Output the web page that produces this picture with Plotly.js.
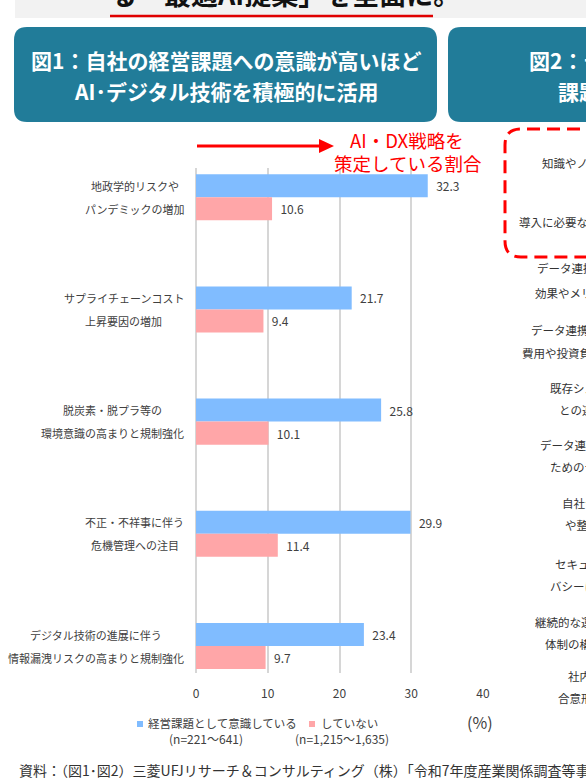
<!DOCTYPE html>
<html><head><meta charset="utf-8">
<script src="https://cdn.plot.ly/plotly-3.0.1.min.js"></script>
<style>html,body{margin:0;padding:0;background:#fff;overflow:hidden}#chart{width:586px;height:783px}</style>
</head><body><div id="chart"></div>
<script>
// ---- data ----
const catLine1 = ['地政学的リスクや','サプライチェーンコスト','脱炭素・脱プラ等の','不正・不祥事に伴う','デジタル技術の進展に伴う'];
const catLine2 = ['パンデミックの増加','上昇要因の増加','環境意識の高まりと規制強化','危機管理への注目','情報漏洩リスクの高まりと規制強化'];
const categories = catLine1.map((a,i)=>a+catLine2[i]);
const awareValues = [32.3, 21.7, 25.8, 29.9, 23.4];
const notAwareValues = [10.6, 9.4, 10.1, 11.4, 9.7];
const xTickVals = [0, 10, 20, 30, 40];
const seriesNames = ['経営課題として意識している', 'していない'];
const seriesN = ['(n=221～641)', '(n=1,215～1,635)'];
const fig2Labels = ['知識やノウハウを持つ人材の不足','導入に必要な費用の確保','データ連携・AI活用の','効果やメリットが不明確','データ連携・AI活用の','費用や投資負担が大きい','既存システム','との連携が困難','データ連携・AI活用の','ためのデータが不足','自社データの収集','や整備が不十分','セキュリティ・プライ','バシーに関する懸念','継続的な運用','体制の構築が困難','社内の','合意形成が困難'];

// ---- layout helpers ----
const W = 586, H = 783;
const L = 196, R = 483, T = 168, B = 673;
const X = px => (px - L) / (R - L);
const Y = py => (B - py) / (B - T);
const FONT = '"Noto Sans CJK JP", "Noto Sans", sans-serif';
const BLUE = '#80bcff', PINK = '#ffa6a8', TEAL = '#217c99', RED = '#ff0000', TXT = '#404040';

function roundRect(x0, y0, x1, y1, r) {
  const p = (x, y) => X(x) + ',' + Y(y);
  return 'M' + p(x0 + r, y0) + ' L' + p(x1 - r, y0) + ' Q' + p(x1, y0) + ' ' + p(x1, y0 + r) +
    ' L' + p(x1, y1 - r) + ' Q' + p(x1, y1) + ' ' + p(x1 - r, y1) +
    ' L' + p(x0 + r, y1) + ' Q' + p(x0, y1) + ' ' + p(x0, y1 - r) +
    ' L' + p(x0, y0 + r) + ' Q' + p(x0, y0) + ' ' + p(x0 + r, y0) + ' Z';
}
const ctx = document.createElement('canvas').getContext('2d');
ctx.font = '11px "Noto Sans CJK JP"';
const tw = s => ctx.measureText(s).width;

const traces = [
  {type:'bar', orientation:'h', y:categories, x:awareValues, name:seriesNames[0],
   marker:{color:BLUE}, text:awareValues.map(v=>v.toFixed(1)), texttemplate:'\u00a0\u00a0%{text}',
   textposition:'outside', cliponaxis:false, textfont:{family:FONT, size:12, color:TXT}, hoverinfo:'skip'},
  {type:'bar', orientation:'h', y:categories, x:notAwareValues, name:seriesNames[1],
   marker:{color:PINK}, text:notAwareValues.map(v=>v.toFixed(1)), texttemplate:'\u00a0\u00a0%{text}',
   textposition:'outside', cliponaxis:false, textfont:{family:FONT, size:12, color:TXT}, hoverinfo:'skip'}
];

const shapes = [];
const ann = [];
// top banner
shapes.push({type:'rect', xref:'paper', yref:'paper', x0:X(15), x1:X(600), y0:Y(-5), y1:Y(18), fillcolor:'#f2f2f2', line:{width:0}, layer:'below'});
ann.push({xref:'paper', yref:'paper', x:X(108), y:Y(15), xanchor:'left', yanchor:'bottom', showarrow:false,
  text:'<b>る「最適AI提案」を全面に。</b>', font:{family:FONT, size:27, color:'#111'}});
shapes.push({type:'line', xref:'paper', yref:'paper', x0:X(110), x1:X(433), y0:Y(16), y1:Y(16), line:{color:'#e00000', width:2.5}});
// title boxes
shapes.push({type:'path', xref:'paper', yref:'paper', path:roundRect(14, 27, 437, 122, 13), fillcolor:TEAL, line:{width:0}});
shapes.push({type:'path', xref:'paper', yref:'paper', path:roundRect(448, 27, 640, 122, 13), fillcolor:TEAL, line:{width:0}});
ann.push({xref:'paper', yref:'paper', x:X(226), y:Y(60), xanchor:'center', yanchor:'middle', showarrow:false,
  text:'<b>図1：自社の経営課題への意識が高いほど</b>', font:{family:FONT, size:21, color:'#fff'}});
ann.push({xref:'paper', yref:'paper', x:X(226), y:Y(91), xanchor:'center', yanchor:'middle', showarrow:false,
  text:'<b>AI･デジタル技術を積極的に活用</b>', font:{family:FONT, size:21, color:'#fff'}});
ann.push({xref:'paper', yref:'paper', x:X(527), y:Y(60), xanchor:'left', yanchor:'middle', showarrow:false,
  text:'<b>図2：データ連携・AI活用の</b>', font:{family:FONT, size:21, color:'#fff'}});
ann.push({xref:'paper', yref:'paper', x:X(556), y:Y(91), xanchor:'left', yanchor:'middle', showarrow:false,
  text:'<b>課題は人材不足</b>', font:{family:FONT, size:21, color:'#fff'}});
// red arrow + text
shapes.push({type:'line', xref:'paper', yref:'paper', x0:X(197), x1:X(322), y0:Y(146), y1:Y(146), line:{color:RED, width:3}});
shapes.push({type:'path', xref:'paper', yref:'paper', path:'M'+X(319)+','+Y(139)+' L'+X(334)+','+Y(146)+' L'+X(319)+','+Y(153)+' Z', fillcolor:RED, line:{width:0}});
ann.push({xref:'paper', yref:'paper', x:X(407), y:Y(140), xanchor:'center', yanchor:'middle', showarrow:false,
  text:'AI・DX戦略を', font:{family:FONT, size:18.5, color:RED}});
ann.push({xref:'paper', yref:'paper', x:X(407.5), y:Y(163), xanchor:'center', yanchor:'middle', showarrow:false,
  text:'策定している割合', font:{family:FONT, size:18.5, color:RED}});
// dashed box of figure 2
shapes.push({type:'path', xref:'paper', yref:'paper',
  path:'M'+X(640)+','+Y(129)+' L'+X(521)+','+Y(129)+' Q'+X(505)+','+Y(129)+' '+X(505)+','+Y(145)+
       ' L'+X(505)+','+Y(241)+' Q'+X(505)+','+Y(257)+' '+X(521)+','+Y(257)+' L'+X(640)+','+Y(257),
  line:{color:RED, width:3, dash:'13px,7px'}});
// figure 2 partial labels
const f2x = [540,517,535,533,529,520,548,557,538,548,560,563,553,548,533,543,566,556];
const f2y = [163,222,268,293,330,353,388,410,445,467,503,525,564,586,622,644,676,698];
fig2Labels.forEach((t,i)=>ann.push({xref:'paper', yref:'paper', x:X(f2x[i]), y:Y(f2y[i]), xanchor:'left', yanchor:'middle',
  showarrow:false, text:t, font:{family:FONT, size:11.5, color:'#333'}}));
// category labels (two lines, centered block, right edge at 184px)
categories.forEach((c,i)=>{
  const w = Math.max(tw(catLine1[i]), tw(catLine2[i]));
  const cx = 184 - w/2;
  ann.push({xref:'paper', yref:'y', x:X(cx), y:i-0.1025, xanchor:'center', yanchor:'middle', showarrow:false,
    text:catLine1[i], font:{family:FONT, size:11, color:TXT}});
  ann.push({xref:'paper', yref:'y', x:X(cx), y:i+0.1025, xanchor:'center', yanchor:'middle', showarrow:false,
    text:catLine2[i], font:{family:FONT, size:11, color:TXT}});
});
// legend
shapes.push({type:'rect', xref:'paper', yref:'paper', x0:X(137), x1:X(143), y0:Y(721), y1:Y(727), fillcolor:BLUE, line:{width:0}});
shapes.push({type:'rect', xref:'paper', yref:'paper', x0:X(309), x1:X(315), y0:Y(721), y1:Y(727), fillcolor:PINK, line:{width:0}});
ann.push({xref:'paper', yref:'paper', x:X(146), y:Y(723), xanchor:'left', yanchor:'middle', showarrow:false, text:seriesNames[0], font:{family:FONT, size:11.5, color:TXT}});
ann.push({xref:'paper', yref:'paper', x:X(206), y:Y(738), xanchor:'center', yanchor:'middle', showarrow:false, text:seriesN[0], font:{family:FONT, size:12, color:TXT}});
ann.push({xref:'paper', yref:'paper', x:X(319), y:Y(723), xanchor:'left', yanchor:'middle', showarrow:false, text:seriesNames[1], font:{family:FONT, size:11.5, color:TXT}});
ann.push({xref:'paper', yref:'paper', x:X(342), y:Y(738), xanchor:'center', yanchor:'middle', showarrow:false, text:seriesN[1], font:{family:FONT, size:12, color:TXT}});
ann.push({xref:'paper', yref:'paper', x:X(480), y:Y(722), xanchor:'center', yanchor:'middle', showarrow:false, text:'(%)', font:{family:FONT, size:16, color:TXT}});
// source
ann.push({xref:'paper', yref:'paper', x:X(17), y:Y(770), xanchor:'left', yanchor:'middle', showarrow:false,
  text:'資料：（図1･図2）三菱UFJリサーチ＆コンサルティング（株）「令和7年度産業関係調査等事業」', font:{family:FONT, size:14, color:'#333'}});

const layout = {
  width:W, height:H, margin:{l:L, r:W-R, t:T, b:H-B, pad:0},
  paper_bgcolor:'#fff', plot_bgcolor:'#fff', showlegend:false,
  barmode:'group', bargap:0.59, bargroupgap:0,
  font:{family:FONT, color:TXT},
  xaxis:{range:[0,40], tickvals:xTickVals, showgrid:true, gridcolor:'#d6d6d6', gridwidth:2,
    zeroline:true, zerolinecolor:'#d6d6d6', zerolinewidth:2, showline:false, ticks:'',
    ticklabelstandoff:12, tickfont:{family:FONT, size:12, color:TXT}, fixedrange:true},
  yaxis:{type:'category', categoryarray:categories, range:[4.24,-0.26], showticklabels:false,
    showgrid:false, zeroline:false, showline:false, ticks:'', fixedrange:true},
  shapes:shapes, annotations:ann
};
Plotly.newPlot('chart', traces, layout, {displayModeBar:false, staticPlot:true});
</script></body></html>
